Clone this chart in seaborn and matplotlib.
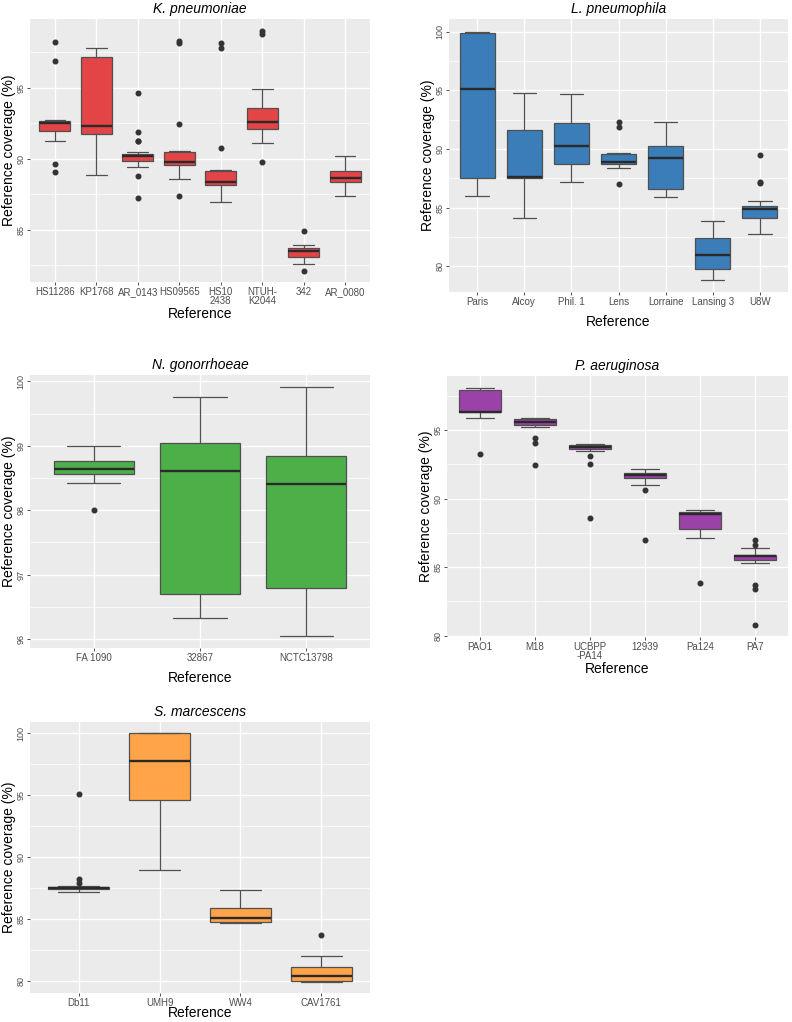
import numpy as np
import pandas as pd
import matplotlib
matplotlib.use("Agg")
import matplotlib.pyplot as plt
import seaborn as sns
from matplotlib.ticker import MultipleLocator

# ---------------- data (box statistics) ----------------
# K. pneumoniae
kp_refs = ["HS11286", "KP1768", "AR_0143", "HS09565", "HS10\n2438", "NTUH-\nK2044", "342", "AR_0080"]
kp_lo = [91.27, 88.87, 89.41, 88.58, 86.96, 91.13, 82.57, 87.36]
kp_q1 = [91.98, 91.77, 89.86, 89.53, 88.16, 92.08, 83.09, 88.33]
kp_med = [92.52, 92.31, 90.19, 89.74, 88.35, 92.55, 83.51, 88.63]
kp_q3 = [92.67, 97.15, 90.33, 90.47, 89.15, 93.54, 83.70, 89.13]
kp_hi = [92.70, 97.83, 90.47, 90.54, 89.22, 94.91, 83.94, 90.21]
kp_out = [[98.21, 96.89, 89.60, 89.03], [], [94.60, 91.86, 91.27, 91.23, 88.75, 87.24],
          [98.30, 98.18, 92.41, 87.36], [98.14, 97.78, 90.78], [99.01, 98.77, 89.74],
          [84.93, 82.10], []]

# L. pneumophila
lp_refs = ["Paris", "Alcoy", "Phil. 1", "Lens", "Lorraine", "Lansing 3", "U8W"]
lp_lo = [86.02, 84.09, 87.16, 88.41, 85.91, 78.84, 82.78]
lp_q1 = [87.50, 87.56, 88.72, 88.75, 86.56, 79.74, 84.15]
lp_med = [95.09, 87.61, 90.23, 88.89, 89.23, 80.99, 84.89]
lp_q3 = [99.94, 91.59, 92.24, 89.57, 90.23, 82.39, 85.17]
lp_hi = [100.0, 94.77, 94.66, 89.63, 92.27, 83.84, 85.54]
lp_out = [[], [], [], [92.33, 91.85, 86.99], [], [], [89.49, 87.22, 87.10]]

# N. gonorrhoeae
ng_refs = ["FA 1090", "32867", "NCTC13798"]
ng_lo = [98.43, 96.32, 96.04]
ng_q1 = [98.57, 96.70, 96.79]
ng_med = [98.64, 98.61, 98.40]
ng_q3 = [98.76, 99.04, 98.84]
ng_hi = [99.00, 99.76, 99.91]
ng_out = [[98.01], [], []]

# P. aeruginosa
pa_refs = ["PAO1", "M18", "UCBPP\n-PA14", "12939", "Pa124", "PA7"]
pa_lo = [95.92, 95.24, 93.45, 90.97, 87.11, 85.29]
pa_q1 = [96.31, 95.34, 93.64, 91.48, 87.79, 85.53]
pa_med = [96.35, 95.56, 93.79, 91.70, 88.86, 85.78]
pa_q3 = [97.96, 95.80, 93.88, 91.87, 89.05, 85.90]
pa_hi = [98.11, 95.85, 94.00, 92.14, 89.15, 86.43]
pa_out = [[93.28], [94.44, 94.05, 92.43], [93.11, 92.55, 88.62], [90.66, 87.01],
          [83.83], [87.01, 86.65, 83.69, 83.40, 80.75]]

# S. marcescens
sm_refs = ["Db11", "UMH9", "WW4", "CAV1761"]
sm_lo = [87.18, 88.92, 84.68, 79.95]
sm_q1 = [87.39, 94.57, 84.73, 80.00]
sm_med = [87.47, 97.74, 85.05, 80.38]
sm_q3 = [87.58, 100.0, 85.86, 81.13]
sm_hi = [87.63, 100.0, 87.31, 82.02]
sm_out = [[95.08, 88.20, 87.93], [], [], [83.68]]


def expand(refs, lo, q1, med, q3, hi, out, reps=20):
    """Build observations whose box statistics equal the values above."""
    rows = []
    for r, a, b, c, d, e, o in zip(refs, lo, q1, med, q3, hi, out):
        vals = [a] + [b] * reps + [c] * reps + [d] * reps + [e] + list(o)
        rows += [(r, v) for v in vals]
    return pd.DataFrame(rows, columns=["Reference", "Coverage"])


W, H = 792, 1022
panels = [
    dict(title="K. pneumoniae", refs=kp_refs, stats=(kp_lo, kp_q1, kp_med, kp_q3, kp_hi, kp_out),
         color="#E34446", box=(30, 19, 370, 282), ylim=(81.3, 99.85), step=5, xpad=0.3),
    dict(title="L. pneumophila", refs=lp_refs, stats=(lp_lo, lp_q1, lp_med, lp_q3, lp_hi, lp_out),
         color="#3A7DB9", box=(449, 19, 788, 292), ylim=(77.8, 101.1), step=5, xpad=6),
    dict(title="N. gonorrhoeae", refs=ng_refs, stats=(ng_lo, ng_q1, ng_med, ng_q3, ng_hi, ng_out),
         color="#4CAF48", box=(30, 375, 370, 648), ylim=(95.86, 100.1), step=1, xpad=5.5),
    dict(title="P. aeruginosa", refs=pa_refs, stats=(pa_lo, pa_q1, pa_med, pa_q3, pa_hi, pa_out),
         color="#9B42A8", box=(447, 376, 788, 637), ylim=(79.9, 98.95), step=5, xpad=0.3),
    dict(title="S. marcescens", refs=sm_refs, stats=(sm_lo, sm_q1, sm_med, sm_q3, sm_hi, sm_out),
         color="#FFA449", box=(30, 722, 370, 993), ylim=(79.03, 100.9), step=5, xpad=-1.5),
]

sns.set_theme(style="darkgrid", rc={"axes.facecolor": "#EBEBEB", "grid.color": "white"})
plt.rcParams["font.family"] = ["Liberation Sans", "DejaVu Sans"]

fig = plt.figure(figsize=(W / 100, H / 100), dpi=100)
fig.patch.set_facecolor("white")

for p in panels:
    x0, y0, x1, y1 = p["box"]
    ax = fig.add_axes([x0 / W, 1 - y1 / H, (x1 - x0) / W, (y1 - y0) / H])
    df = expand(p["refs"], *p["stats"])
    sns.boxplot(data=df, x="Reference", y="Coverage", order=p["refs"], color=p["color"],
                saturation=1, width=0.75, linecolor="#505050", linewidth=0.9,
                medianprops=dict(color="#2a2a2a", linewidth=1.7),
                flierprops=dict(marker="o", markerfacecolor="#333333",
                                markeredgecolor="#333333", markersize=3.3),
                ax=ax)
    # ggplot-style error-bar caps: half the category spacing
    for ln in ax.lines:
        xd = np.asarray(ln.get_xdata(), dtype=float)
        yd = np.asarray(ln.get_ydata(), dtype=float)
        if len(xd) == 2 and yd[0] == yd[1] and abs(abs(xd[1] - xd[0]) - 0.375) < 1e-6:
            c = xd.mean()
            ln.set_xdata([c - 0.25, c + 0.25])
    n = len(p["refs"])
    ax.set_xlim(-0.6, n - 0.4)
    ax.set_ylim(*p["ylim"])
    step = p["step"]
    ax.yaxis.set_major_locator(MultipleLocator(step))
    ax.yaxis.set_minor_locator(MultipleLocator(step / 2))
    ax.grid(True, which="major", color="white", linewidth=1.0)
    ax.grid(True, which="minor", axis="y", color="white", linewidth=0.5)
    ax.set_axisbelow(True)
    for s in ax.spines.values():
        s.set_visible(False)
    ax.tick_params(axis="x", which="major", length=2.5, width=0.6, color="#333333",
                   labelsize=7, labelcolor="#4D4D4D", pad=1, bottom=True)
    ax.tick_params(axis="y", which="major", length=2.5, width=0.6, color="#333333",
                   labelsize=6.5, labelcolor="#4D4D4D", pad=0.6, left=True, labelrotation=90)
    ax.tick_params(axis="y", which="minor", length=0)
    for lab in ax.get_yticklabels():
        lab.set_va("center")
    for lab in ax.get_xticklabels():
        lab.set_linespacing(0.95)
    ax.set_title(p["title"], fontsize=10, fontstyle="italic", pad=4, color="black")
    ax.set_xlabel("Reference", fontsize=10, color="black", labelpad=p["xpad"])
    ax.set_ylabel("Reference coverage (%)", fontsize=10, color="black")
    ax.yaxis.label.set_va("center")
    ax.yaxis.set_label_coords(-21.0 / (x1 - x0), 0.5)

fig.savefig("out.png", dpi=100, facecolor="white")
